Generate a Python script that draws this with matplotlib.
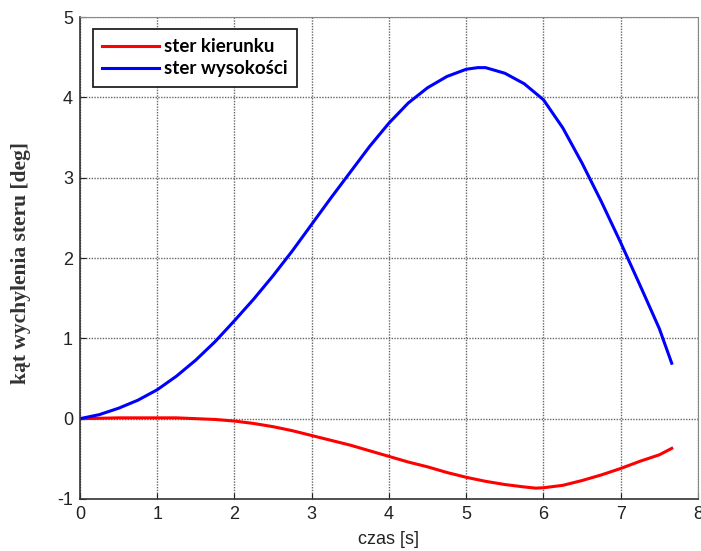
import numpy as np
import matplotlib
matplotlib.use("Agg")
import matplotlib.pyplot as plt

plt.rcParams["axes.unicode_minus"] = False

# ----- data -----
t_kier = [0.0, 0.5, 1.0, 1.25, 1.5, 1.75, 2.0, 2.25, 2.5, 2.75, 3.0, 3.25, 3.5, 3.75, 4.0,
          4.25, 4.5, 4.75, 5.0, 5.25, 5.5, 5.75, 5.9, 6.0, 6.25, 6.5, 6.75, 7.0, 7.25, 7.5, 7.66]
ster_kierunku = [0.0, 0.01, 0.01, 0.01, 0.0, -0.01, -0.03, -0.06, -0.10, -0.15, -0.21, -0.27, -0.33, -0.40, -0.47,
                 -0.54, -0.60, -0.67, -0.73, -0.78, -0.82, -0.85, -0.865, -0.86, -0.83, -0.77, -0.70, -0.62, -0.53, -0.45, -0.37]

t_wys = [0.0, 0.25, 0.5, 0.75, 1.0, 1.25, 1.5, 1.75, 2.0, 2.25, 2.5, 2.75, 3.0, 3.25, 3.5, 3.75, 4.0,
         4.25, 4.5, 4.75, 5.0, 5.15, 5.25, 5.5, 5.75, 6.0, 6.25, 6.5, 6.75, 7.0, 7.25, 7.5, 7.66]
ster_wysokosci = [0.0, 0.05, 0.13, 0.23, 0.36, 0.53, 0.73, 0.96, 1.22, 1.49, 1.78, 2.09, 2.42, 2.75, 3.07, 3.39, 3.68,
                  3.93, 4.12, 4.26, 4.35, 4.37, 4.37, 4.30, 4.17, 3.97, 3.62, 3.18, 2.70, 2.19, 1.66, 1.12, 0.69]

xticks = [0, 1, 2, 3, 4, 5, 6, 7, 8]
yticks = [-1, 0, 1, 2, 3, 4, 5]

fig = plt.figure(figsize=(7.01, 5.51), dpi=100)
ax = fig.add_axes([0.1141, 0.0944, 0.8816, 0.8747])

ax.plot(t_kier, ster_kierunku, color="#ff0000", lw=2.2, label="ster kierunku")
ax.plot(t_wys, ster_wysokosci, color="#0000ff", lw=2.2, label="ster wysokości")

ax.set_xlim(0, 8)
ax.set_ylim(-1, 5)
ax.set_xticks(xticks)
ax.set_yticks(yticks)
ax.grid(True, color="#666666", linestyle=(0, (1, 1)), lw=1.0)
ax.set_axisbelow(True)

ax.tick_params(direction="in", length=4, labelsize=13, colors="#222222",
               top=False, right=False)
ax.tick_params(axis="x", pad=5)
ax.tick_params(axis="y", pad=5)
for lab in ax.get_xticklabels() + ax.get_yticklabels():
    lab.set_family("Liberation Sans")

for s in ["top", "right"]:
    ax.spines[s].set_color("#888888")
    ax.spines[s].set_linestyle((0, (1, 1)))
for s in ["left", "bottom"]:
    ax.spines[s].set_color("#333333")
    ax.spines[s].set_linewidth(1.2)

ax.set_xlabel("czas [s]", fontsize=13, family="Liberation Sans", color="#222222", labelpad=6)
ax.set_ylabel("kąt wychylenia steru [deg]", fontsize=15.5, family="Liberation Serif",
              fontweight="bold", color="#333333")
ax.yaxis.set_label_coords(-0.08, 0.49)

leg = ax.legend(loc="upper left", bbox_to_anchor=(0.021, 0.975), borderaxespad=0,
                fancybox=False, framealpha=1, edgecolor="#222222", handlelength=3.0,
                prop={"family": "Lato", "weight": "bold", "size": 13.5},
                borderpad=0.5, labelspacing=0.25, handletextpad=0.3)
leg.get_frame().set_linewidth(1.3)

fig.savefig("out.png", dpi=100)
